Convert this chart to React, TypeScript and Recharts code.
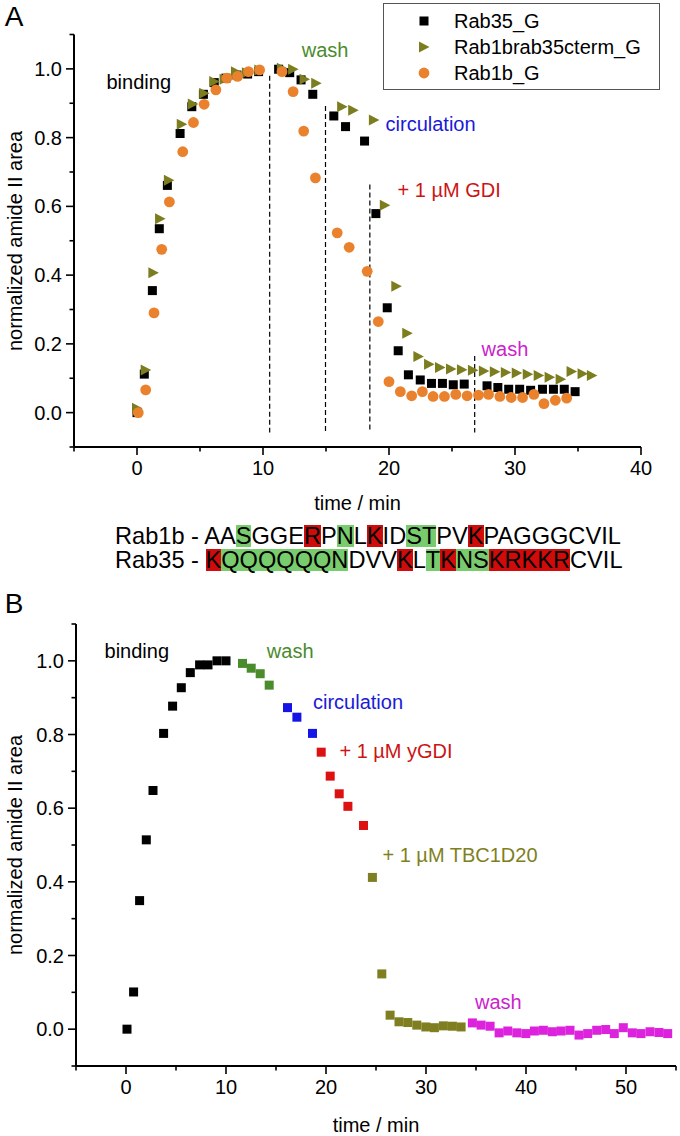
import React from 'react';
import {
  ScatterChart,
  Scatter,
  XAxis,
  YAxis,
  ReferenceLine,
  ReferenceDot,
  Legend
} from 'recharts';

type Pt = [number, number]; // [time / min, normalized amide II area]

// ---- panel A ----
const rab35G: Pt[] = [
  [0, 0], [0.58, 0.112], [1.22, 0.355], [1.77, 0.535], [2.41, 0.661], [3.42, 0.812],
  [4.35, 0.89], [5.27, 0.926], [6.13, 0.96], [7.06, 0.973], [7.93, 0.982], [8.78, 0.985],
  [9.65, 0.992], [11.24, 0.999], [12.12, 0.989], [13.02, 0.968], [13.95, 0.926],
  [15.62, 0.863], [16.55, 0.832], [18.06, 0.79], [18.96, 0.579], [19.86, 0.305],
  [20.73, 0.18], [21.54, 0.11], [22.48, 0.095], [23.37, 0.085], [24.24, 0.085],
  [25.1, 0.081], [25.97, 0.083], [27.78, 0.078], [28.64, 0.073], [29.5, 0.068],
  [30.37, 0.068], [31.24, 0.065], [32.18, 0.068], [33.05, 0.068], [33.91, 0.068],
  [34.77, 0.061]
];

const rab1bRab35ctermG: Pt[] = [
  [0, 0.013], [0.69, 0.124], [1.3, 0.407], [1.83, 0.564], [2.53, 0.676], [3.55, 0.839],
  [4.43, 0.898], [5.33, 0.929], [6.13, 0.963], [6.95, 0.97], [7.85, 0.992], [8.72, 0.989],
  [9.71, 0.997], [11.5, 1.002], [12.39, 0.999], [13.3, 0.97], [14.22, 0.958],
  [16.28, 0.89], [17.16, 0.88], [18.8, 0.851], [19.67, 0.603], [20.58, 0.368],
  [21.45, 0.231], [22.33, 0.163], [23.18, 0.141], [24.05, 0.131], [24.92, 0.127],
  [25.79, 0.125], [26.66, 0.123], [27.53, 0.121], [28.4, 0.119], [29.27, 0.117],
  [30.14, 0.115], [31.01, 0.112], [31.88, 0.108], [32.75, 0.103], [33.62, 0.097],
  [34.49, 0.12], [35.36, 0.113], [36.1, 0.108]
];

const rab1bG: Pt[] = [
  [0.1, 0], [0.69, 0.066], [1.35, 0.29], [1.96, 0.475], [2.57, 0.613], [3.63, 0.759],
  [4.48, 0.844], [5.33, 0.897], [6.26, 0.939], [7.13, 0.973], [7.98, 0.978], [8.85, 0.992],
  [9.73, 0.997], [11.51, 0.992], [12.39, 0.934], [13.23, 0.819], [14.16, 0.683],
  [15.89, 0.523], [16.84, 0.481], [18.27, 0.411], [19.15, 0.265], [20.0, 0.09],
  [20.9, 0.061], [21.8, 0.049], [22.65, 0.061], [23.5, 0.047], [24.4, 0.047],
  [25.3, 0.053], [26.2, 0.049], [27.1, 0.051], [27.9, 0.053], [28.8, 0.047],
  [29.7, 0.044], [30.6, 0.044], [31.5, 0.053], [32.3, 0.026], [33.2, 0.036], [34.1, 0.042]
];

// dashed markers: time, top value
const stepsA: Pt[] = [[10.53, 0.98], [14.96, 0.892], [18.48, 0.664], [26.8, 0.165]];

// ---- panel B ----
const bBinding: Pt[] = [
  [0.1, 0], [0.76, 0.101], [1.36, 0.349], [2.03, 0.514], [2.7, 0.648], [3.76, 0.803],
  [4.66, 0.877], [5.53, 0.927], [6.43, 0.968], [7.36, 0.989], [8.2, 0.989], [9.1, 1.0], [10.0, 1.0]
];
const bWash: Pt[] = [[11.65, 0.993], [12.52, 0.98], [13.42, 0.965], [14.32, 0.934]];
const bCirculation: Pt[] = [[16.15, 0.873], [17.09, 0.847], [18.65, 0.803]];
const bGdi: Pt[] = [[19.52, 0.752], [20.42, 0.687], [21.32, 0.639], [22.19, 0.605], [23.75, 0.553]];
const bTbc: Pt[] = [
  [24.64, 0.412], [25.58, 0.15], [26.41, 0.038], [27.3, 0.02], [28.18, 0.018], [29.08, 0.011],
  [29.98, 0.006], [30.84, 0.004], [31.74, 0.009], [32.64, 0.008], [33.51, 0.006]
];
const bWash2: Pt[] = [
  [34.64, 0.017], [35.51, 0.011], [36.41, 0.008], [37.31, -0.01], [38.18, -0.005],
  [39.08, -0.01], [39.98, -0.012], [40.84, -0.005], [41.74, -0.003], [42.64, -0.007],
  [43.51, -0.005], [44.4, -0.003], [45.3, -0.016], [46.17, -0.012], [47.07, -0.003],
  [47.97, -0.001], [48.83, -0.012], [49.73, 0.004], [50.63, -0.01], [51.5, -0.012],
  [52.4, -0.007], [53.3, -0.009], [54.17, -0.012]
];

// ticks
const yTicks = [-0.1, 0, 0.1, 0.2, 0.3, 0.4, 0.5, 0.6, 0.7, 0.8, 0.9, 1.0, 1.1];
const xTicksA = [-5, 0, 5, 10, 15, 20, 25, 30, 35, 40];
const xTicksB = [-5, 0, 5, 10, 15, 20, 25, 30, 35, 40, 45, 50, 55];

const legendOrder = ['Rab35_G', 'Rab1brab35cterm_G', 'Rab1b_G'];

// sequence alignment (g = green, r = red highlight)
const rab1bSeq: [string, string?][] = [
  ['AA'], ['S', 'g'], ['GGE'], ['R', 'r'], ['P'], ['N', 'g'], ['L'], ['K', 'r'], ['ID'],
  ['ST', 'g'], ['PV'], ['K', 'r'], ['PAGGGCVIL']
];
const rab35Seq: [string, string?][] = [
  ['K', 'r'], ['QQQQQQN', 'g'], ['DVV'], ['K', 'r'], ['L'], ['T', 'g'], ['K', 'r'],
  ['NS', 'g'], ['KRKKR', 'r'], ['CVIL']
];

const FONT = '"Liberation Sans", Arial, Helvetica, sans-serif';
const toRows = (pts: Pt[]) => pts.map(([t, v]) => ({ t, v }));

const XTick = ({ x, y, payload }: any) => {
  const major = Math.round(payload.value) % 10 === 0;
  return (
    <g>
      <line x1={x} x2={x} y1={y} y2={y + (major ? 8 : 4.5)} stroke="#000" strokeWidth={1.6} />
      {major && (
        <text x={x} y={y + 28} textAnchor="middle" fontSize={20} fill="#000">
          {payload.value}
        </text>
      )}
    </g>
  );
};

const YTick = ({ x, y, payload }: any) => {
  const major = Math.round(payload.value * 10) % 2 === 0;
  return (
    <g>
      <line x1={x} x2={x - (major ? 8 : 4.5)} y1={y} y2={y} stroke="#000" strokeWidth={1.6} />
      {major && (
        <text x={x - 12} y={y + 7} textAnchor="end" fontSize={20} fill="#000">
          {payload.value.toFixed(1)}
        </text>
      )}
    </g>
  );
};

const square = (color: string, s = 9) => (p: any) => (
  <rect x={p.cx - s / 2} y={p.cy - s / 2} width={s} height={s} fill={color} />
);
const triangleRight = (color: string) => (p: any) => (
  <polygon
    points={`${p.cx - 5},${p.cy - 5.5} ${p.cx + 5.5},${p.cy} ${p.cx - 5},${p.cy + 5.5}`}
    fill={color}
  />
);
const dot = (color: string) => (p: any) => <circle cx={p.cx} cy={p.cy} r={5.4} fill={color} />;

const note = (text: string, color: string) => (p: any) => (
  <text x={p.cx} y={p.cy} dy="0.35em" textAnchor="middle" fontSize={20} fill={color}>
    {text}
  </text>
);

const legendShape: Record<string, (c: string) => React.ReactNode> = {
  Rab35_G: (c) => <rect x={-4.5} y={-4.5} width={9} height={9} fill={c} />,
  Rab1brab35cterm_G: (c) => <polygon points="-5,-5.5 5.5,0 -5,5.5" fill={c} />,
  Rab1b_G: (c) => <circle r={5.4} fill={c} />
};

const LegendBox = ({ payload }: any) => {
  const items = [...(payload || [])].sort(
    (a: any, b: any) => legendOrder.indexOf(a.value) - legendOrder.indexOf(b.value)
  );
  return (
    <div
      style={{
        width: 277,
        height: 87,
        boxSizing: 'border-box',
        border: '1.3px solid #555',
        background: '#fff',
        fontFamily: FONT,
        fontSize: 20,
        paddingTop: 4
      }}
    >
      {items.map((item: any) => (
        <div key={item.value} style={{ display: 'flex', alignItems: 'center', height: 26 }}>
          <svg width={60} height={20} style={{ marginLeft: 10 }}>
            <g transform="translate(30,10)">{legendShape[item.value]?.(item.color)}</g>
          </svg>
          <span style={{ color: '#000', lineHeight: '20px' }}>{item.value}</span>
        </div>
      ))}
    </div>
  );
};

const SeqRow = ({ label, seq, top }: { label: string; seq: [string, string?][]; top: number }) => (
  <div
    style={{
      position: 'absolute',
      left: 115,
      top,
      height: 22,
      lineHeight: '22px',
      fontSize: 23.6,
      whiteSpace: 'pre',
      color: '#000'
    }}
  >
    {label}
    {seq.map(([s, c], i) =>
      c ? (
        <span
          key={i}
          style={{
            display: 'inline-block',
            height: 22,
            lineHeight: '22px',
            verticalAlign: 'top',
            background: c === 'g' ? '#79cc6e' : '#cf0b0b'
          }}
        >
          {s}
        </span>
      ) : (
        <span key={i}>{s}</span>
      )
    )}
  </div>
);

const Text = ({ x, y, size = 20, rotate = false, children }: any) => (
  <div
    style={{
      position: 'absolute',
      left: x,
      top: y,
      fontSize: size,
      lineHeight: 1,
      whiteSpace: 'nowrap',
      transform: `translate(-50%,-50%)${rotate ? ' rotate(-90deg)' : ''}`
    }}
  >
    {children}
  </div>
);

const axisLine = { stroke: '#000', strokeWidth: 2 };

export default function App() {
  return (
    <div
      style={{
        position: 'absolute',
        left: 0,
        top: 0,
        width: 680,
        height: 1136,
        background: '#fff',
        fontFamily: FONT,
        overflow: 'hidden'
      }}
    >
      {/* ---- A ---- */}
      <div style={{ position: 'absolute', left: 0, top: 0 }}>
        <ScatterChart width={680} height={490} margin={{ top: 34.5, right: 39, bottom: 3, left: 14 }}>
          <XAxis
            type="number"
            dataKey="t"
            domain={[-5, 40]}
            ticks={xTicksA}
            interval={0}
            tickSize={0}
            tickMargin={0}
            tickLine={false}
            tick={<XTick />}
            axisLine={axisLine}
            height={40}
          />
          <YAxis
            type="number"
            dataKey="v"
            domain={[-0.1, 1.1]}
            ticks={yTicks}
            interval={0}
            tickSize={0}
            tickMargin={0}
            tickLine={false}
            tick={<YTick />}
            axisLine={axisLine}
            width={60}
          />
          {stepsA.map(([t, top]) => (
            <ReferenceLine
              key={t}
              segment={[{ x: t, y: top }, { x: t, y: -0.058 }]}
              stroke="#000"
              strokeWidth={1.2}
              strokeDasharray="5 3"
            />
          ))}
          <Scatter name="Rab35_G" data={toRows(rab35G)} fill="#000" shape={square('#000')} isAnimationActive={false} />
          <Scatter
            name="Rab1brab35cterm_G"
            data={toRows(rab1bRab35ctermG)}
            fill="#7b7d1f"
            shape={triangleRight('#7b7d1f')}
            isAnimationActive={false}
          />
          <Scatter name="Rab1b_G" data={toRows(rab1bG)} fill="#ea822d" shape={dot('#ea822d')} isAnimationActive={false} />
          <ReferenceDot x={0.14} y={0.963} r={1} shape={note('binding', '#000')} />
          <ReferenceDot x={14.93} y={1.055} r={1} shape={note('wash', '#4a8b2c')} />
          <ReferenceDot x={23.3} y={0.839} r={1} shape={note('circulation', '#1a1ad8')} />
          <ReferenceDot x={24.77} y={0.647} r={1} shape={note('+ 1 µM GDI', '#cc1414')} />
          <ReferenceDot x={29.2} y={0.185} r={1} shape={note('wash', '#cc22cc')} />
          <Legend
            layout="vertical"
            align="center"
            verticalAlign="middle"
            content={<LegendBox />}
            wrapperStyle={{ left: 383, top: 3, width: 277, height: 87 }}
          />
        </ScatterChart>
      </div>
      <Text x={14} y={17} size={28}>A</Text>
      <Text x={15} y={241} size={20} rotate>normalized amide II area</Text>
      <Text x={357.5} y={503}>time / min</Text>
      <SeqRow label="Rab1b - " seq={rab1bSeq} top={525} />
      <SeqRow label="Rab35 - " seq={rab35Seq} top={549} />

      {/* ---- B ---- */}
      <div style={{ position: 'absolute', left: 0, top: 590 }}>
        <ScatterChart width={680} height={546} margin={{ top: 34, right: 4, bottom: 30, left: 16 }}>
          <XAxis
            type="number"
            dataKey="t"
            domain={[-5, 55]}
            ticks={xTicksB}
            interval={0}
            tickSize={0}
            tickMargin={0}
            tickLine={false}
            tick={<XTick />}
            axisLine={axisLine}
            height={40}
          />
          <YAxis
            type="number"
            dataKey="v"
            domain={[-0.1, 1.1]}
            ticks={yTicks}
            interval={0}
            tickSize={0}
            tickMargin={0}
            tickLine={false}
            tick={<YTick />}
            axisLine={axisLine}
            width={60}
          />
          <Scatter data={toRows(bBinding)} fill="#000" shape={square('#000')} isAnimationActive={false} />
          <Scatter data={toRows(bWash)} fill="#4a8b2c" shape={square('#4a8b2c')} isAnimationActive={false} />
          <Scatter data={toRows(bCirculation)} fill="#1414e6" shape={square('#1414e6')} isAnimationActive={false} />
          <Scatter data={toRows(bGdi)} fill="#dd1111" shape={square('#dd1111')} isAnimationActive={false} />
          <Scatter data={toRows(bTbc)} fill="#7f7f22" shape={square('#7f7f22')} isAnimationActive={false} />
          <Scatter data={toRows(bWash2)} fill="#dd22dd" shape={square('#dd22dd')} isAnimationActive={false} />
          <ReferenceDot x={1.08} y={1.026} r={1} shape={note('binding', '#000')} />
          <ReferenceDot x={16.42} y={1.026} r={1} shape={note('wash', '#4a8b2c')} />
          <ReferenceDot x={23.2} y={0.887} r={1} shape={note('circulation', '#1a1ad8')} />
          <ReferenceDot x={27.0} y={0.754} r={1} shape={note('+ 1 µM yGDI', '#cc1414')} />
          <ReferenceDot x={33.4} y={0.473} r={1} shape={note('+ 1 µM TBC1D20', '#7f7f22')} />
          <ReferenceDot x={37.24} y={0.074} r={1} shape={note('wash', '#cc22cc')} />
        </ScatterChart>
      </div>
      <Text x={14} y={604} size={28}>B</Text>
      <Text x={15} y={845} size={20} rotate>normalized amide II area</Text>
      <Text x={376} y={1125}>time / min</Text>
    </div>
  );
}
